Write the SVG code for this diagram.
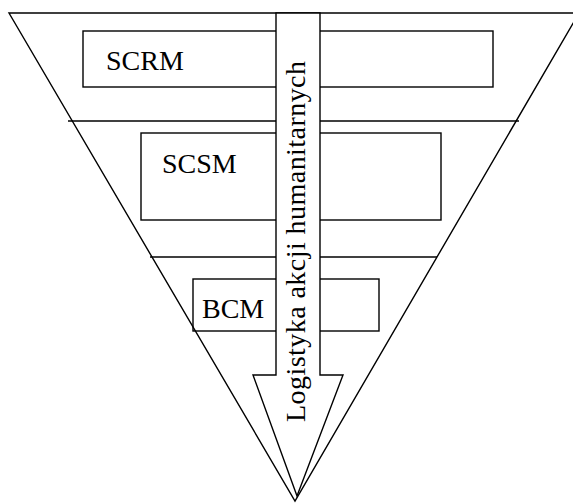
<svg xmlns="http://www.w3.org/2000/svg" width="573" height="503" viewBox="0 0 573 503">
<style>
.s{fill:none;stroke:#000;stroke-width:1.4}
.b{fill:#fff;stroke:#000;stroke-width:1.4}
.t{font-family:"Liberation Serif","Times New Roman",serif;font-size:28px;fill:#000}
</style>
<rect width="573" height="503" fill="#fff"/>
<g id="pyramid">
<polygon class="s" points="9,13 579,13 295,501"/>
<line class="s" x1="68" y1="121" x2="519" y2="121"/>
<line class="s" x1="150" y1="257" x2="437" y2="257"/>
</g>
<g id="scrm">
<rect class="s" x="83" y="31" width="410" height="56"/>
<text class="t" x="106" y="70">SCRM</text>
</g>
<g id="scsm">
<rect class="s" x="141" y="133" width="300" height="87"/>
<text class="t" x="162" y="173">SCSM</text>
</g>
<g id="bcm">
<rect class="s" x="193" y="279" width="186" height="52"/>
<text class="t" x="202" y="318">BCM</text>
</g>
<g id="connectors">
<polygon class="b" points="276,13 320,13 320,375 343,375 297,496 253,375 276,375"/>
<text class="t" transform="translate(305,422) rotate(-90)" textLength="361" lengthAdjust="spacing">Logistyka akcji humanitarnych</text>
</g>
</svg>
